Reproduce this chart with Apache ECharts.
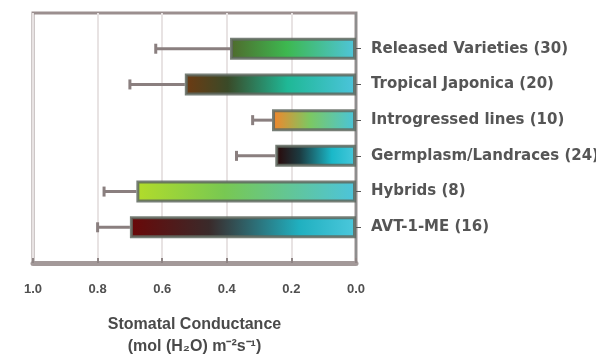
<!DOCTYPE html>
<html>
<head>
<meta charset="utf-8">
<script src="https://cdn.jsdelivr.net/npm/echarts@6/dist/echarts.min.js"></script>
<style>
html,body{margin:0;padding:0;background:#ffffff;}
#chart{width:596px;height:364px;}
</style>
</head>
<body>
<div id="chart"></div>
<script>
const categories = ['Released Varieties (30)', 'Tropical Japonica (20)', 'Introgressed lines (10)', 'Germplasm/Landraces (24)', 'Hybrids (8)', 'AVT-1-ME (16)'];
const meanValues = [0.39, 0.53, 0.26, 0.25, 0.68, 0.70];
const errorUpper = [0.62, 0.70, 0.32, 0.37, 0.78, 0.80];
const xTicks = [0, 0.2, 0.4, 0.6, 0.8, 1.0];
const gradientStops = [
  [[0, '#4f6a2c'], [0.45, '#3db850'], [1, '#4fc5dc']],
  [[0, '#6e3a12'], [0.25, '#3a4a28'], [0.6, '#1fb896'], [1, '#4cc4dc']],
  [[0, '#f5842a'], [0.45, '#7cc862'], [1, '#48c4dc']],
  [[0, '#2a0606'], [0.3, '#1c3a40'], [0.7, '#1ab8c8'], [1, '#48c8dc']],
  [[0, '#b2dc2a'], [0.4, '#78c852'], [1, '#4cc4dc']],
  [[0, '#6a0808'], [0.35, '#3a2a2a'], [0.75, '#20b0c0'], [1, '#4cc8dc']]
];

const padded = [''].concat(categories, ['']);

const barData = [null].concat(meanValues.map((v, i) => ({
  value: v,
  itemStyle: {
    color: new echarts.graphic.LinearGradient(0, 0, 1, 0,
      gradientStops[i].map(s => ({offset: s[0], color: s[1]})))
  }
})), [null]).map(d => d === null ? '-' : d);

const errData = categories.map((c, i) => [meanValues[i], errorUpper[i], c]);

const chart = echarts.init(document.getElementById('chart'), null, {renderer: 'canvas'});
chart.setOption({
  backgroundColor: '#ffffff',
  animation: false,
  grid: {
    left: 33, right: 240, top: 13, bottom: 101,
    containLabel: false, outerBoundsMode: 'none',
    show: true, borderColor: '#9b8f8f', borderWidth: 3, backgroundColor: 'transparent'
  },
  xAxis: {
    type: 'value', inverse: true, min: 0, max: 1, interval: 0.2,
    axisLine: {show: true, lineStyle: {color: '#a39999', width: 5}},
    axisTick: {show: true, inside: true, length: 5, lineStyle: {color: '#8f8585', width: 2}},
    splitLine: {show: true, lineStyle: {color: '#e8e3e3', width: 2}},
    axisLabel: {
      margin: 20, color: '#505050', fontSize: 13, fontWeight: 'bold',
      fontFamily: 'Liberation Sans, Arial, sans-serif',
      formatter: v => xTicks.includes(Math.round(v * 10) / 10) ? v.toFixed(1) : ''
    },
    name: 'Stomatal Conductance\n(mol (H₂O) m⁻²s⁻¹)',
    nameLocation: 'middle', nameGap: 51,
    nameTextStyle: {color: '#4a4a4a', fontSize: 16, fontWeight: 'bold', lineHeight: 22, fontFamily: 'Liberation Sans, Arial, sans-serif'}
  },
  yAxis: {
    type: 'category', data: padded, inverse: true, position: 'right', boundaryGap: false,
    axisLine: {show: true, lineStyle: {color: '#8e8e8e', width: 2}},
    axisTick: {show: true, length: 5, interval: (idx, val) => val !== '', lineStyle: {color: '#555', width: 1}},
    splitLine: {show: false},
    axisLabel: {
      margin: 15, color: '#555555', fontSize: 15, fontWeight: 'bold',
      fontFamily: 'DejaVu Sans, sans-serif'
    }
  },
  series: [
    {
      type: 'custom',
      encode: {x: [0, 1], y: 2},
      z: 1,
      renderItem: (params, api) => {
        const p0 = api.coord([api.value(0), api.value(2)]);
        const p1 = api.coord([api.value(1), api.value(2)]);
        return {
          type: 'group',
          children: [
            {type: 'line', shape: {x1: p0[0], y1: p0[1], x2: p1[0], y2: p1[1]},
             style: {stroke: '#8a7f7f', lineWidth: 3}},
            {type: 'line', shape: {x1: p1[0], y1: p1[1] - 5, x2: p1[0], y2: p1[1] + 5},
             style: {stroke: '#8a7f7f', lineWidth: 3}}
          ]
        };
      },
      data: errData
    },
    {
      type: 'bar', z: 2, barWidth: 22,
      itemStyle: {borderColor: 'rgba(95,105,95,0.85)', borderWidth: 3},
      data: barData
    }
  ]
});
</script>
</body>
</html>
